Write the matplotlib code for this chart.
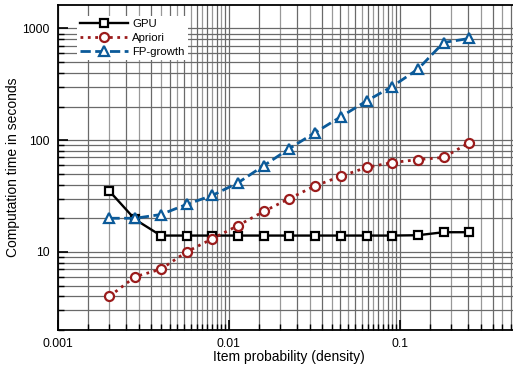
import numpy as np
import matplotlib
matplotlib.use('Agg')
import matplotlib.pyplot as plt
from matplotlib.ticker import FixedLocator, NullFormatter

plt.rcParams['font.family'] = ['Liberation Sans', 'DejaVu Sans']

# item probability (density) of each run
density = [0.002, 0.00283, 0.004, 0.00566, 0.008, 0.0113, 0.016, 0.0226,
           0.032, 0.0453, 0.064, 0.0905, 0.128, 0.181, 0.256]
gpu = [35, 19.5, 14, 14, 14, 14, 14, 14, 14, 14, 14, 14, 14.1, 15, 15]
apriori = [4.0, 6.0, 7.0, 10, 13.1, 17.2, 23, 30, 39, 47.5, 57, 63, 67, 70, 95]
fpgrowth = [20, 20, 21.6, 26.6, 32, 41.5, 59, 84, 117, 162, 224, 302, 432, 748, 813]

W, H = 513, 367
fig = plt.figure(figsize=(W / 100, H / 100), dpi=100)
ax = fig.add_axes([58 / W, 1 - 330 / H, (519 - 58) / W, (330 - 5) / H])
ax.set_xscale('log')
ax.set_yscale('log')
ax.set_xlim(0.001, 0.5)
ax.set_ylim(2, 1620)

# grid: y uses normal log minor lines, x has extra lines at every half step
xint = [k * 10.0 ** e for e in (-3, -2, -1) for k in range(2, 10)]
xhalf = [(k + 0.5) * 10.0 ** e for e in (-3, -2, -1) for k in range(1, 10)]
for v in xint:
    ax.axvline(v, color='#999999', lw=0.9, zorder=0)
for v in xhalf:
    ax.axvline(v, color='#6a6a6a', lw=0.9, zorder=0)
for v in [0.001, 0.01, 0.1]:
    ax.axvline(v, color='#6a6a6a', lw=0.9, zorder=0)
yl = [k * 10.0 ** e for e in (0, 1, 2, 3) for k in range(1, 10)]
for v in yl:
    ax.axhline(v, color='#6a6a6a', lw=0.9, zorder=0)

ax.plot(density, gpu, '-s', color='black', lw=1.7, ms=6, mfc='white', mew=1.6, label='GPU')
ax.plot(density, apriori, ':o', color='#9b1c1c', lw=2.0, ms=6.5, mfc='white', mew=1.6, label='Apriori')
ax.plot(density, fpgrowth, '--^', color='#0b5a99', lw=2.0, ms=7, mfc='white', mew=1.6, label='FP-growth')

ax.xaxis.set_major_locator(FixedLocator([0.001, 0.01, 0.1]))
ax.set_xticklabels(['0.001', '0.01', '0.1'])
ax.xaxis.set_minor_locator(FixedLocator(xint + xhalf))
ax.xaxis.set_minor_formatter(NullFormatter())
ax.yaxis.set_major_locator(FixedLocator([10, 100, 1000]))
ax.set_yticklabels(['10', '100', '1000'])
ax.yaxis.set_minor_locator(FixedLocator([v for v in yl if v not in (1, 10, 100, 1000)]))
ax.yaxis.set_minor_formatter(NullFormatter())
ax.tick_params(which='major', direction='in', length=7, width=1.2, labelsize=8.7, pad=6, top=False, right=False)
ax.tick_params(which='minor', direction='in', length=4, width=1, top=False, right=False)
for s in ax.spines.values():
    s.set_linewidth(1.3)

ax.set_xlabel('Item probability (density)', fontsize=10, labelpad=0)
ax.set_ylabel('Computation time in seconds', fontsize=10, labelpad=2)

leg = ax.legend(loc='upper left', bbox_to_anchor=(0.028, 0.985), fontsize=8.2, handlelength=4.2,
                frameon=True, fancybox=False, borderpad=0.3, labelspacing=0.35, handletextpad=0.4)
leg.get_frame().set_edgecolor('none')
leg.get_frame().set_alpha(1)

fig.savefig('out.png', dpi=100)
